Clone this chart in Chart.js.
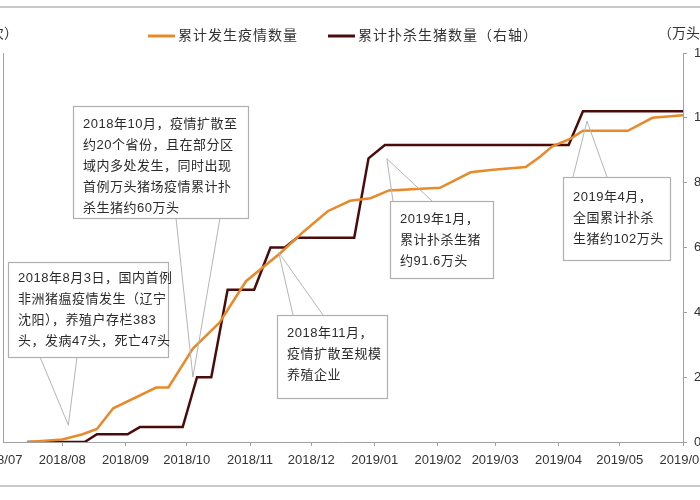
<!DOCTYPE html>
<html>
<head>
<meta charset="utf-8">
<script src="https://cdn.jsdelivr.net/npm/chart.js@4/dist/chart.umd.min.js"></script>
<style>
  html, body { margin: 0; padding: 0; background: #fff; }
  canvas { display: block; }
</style>
</head>
<body>
<canvas id="chart" width="700" height="500"></canvas>
<script>
// x values are days counted from 2018-07-01
const monthDays = [0, 31, 62, 92, 123, 153, 184, 215, 243, 274, 304, 335];
const monthLabels = ['2018/07', '2018/08', '2018/09', '2018/10', '2018/11', '2018/12',
                     '2019/01', '2019/02', '2019/03', '2019/04', '2019/05', '2019/06'];

// 累计发生疫情数量 (left axis, 次)
const outbreakDays = [14, 31, 41, 48, 56, 77, 83, 95, 108, 121, 138, 149, 161, 172,
                      182, 191, 216, 231, 242, 258, 265, 271, 280, 286, 308, 320, 335];
const outbreakCount = [0, 1, 3, 5, 13, 21, 21, 36, 46, 62, 73, 81, 89, 93,
                       94, 97, 98, 104, 105, 106, 110, 114, 117, 120, 120, 125, 126];

// 累计扑杀生猪数量 (right axis, 万头)
const cullDays = [14, 42, 48, 63, 69, 90, 97, 104, 112, 125, 133, 140, 146, 174,
                  181, 189, 279, 286, 335];
const cullValues = [0, 0, 2.4, 2.4, 4.6, 4.6, 20, 20, 47, 47, 60, 60, 63, 63,
                    87.5, 91.6, 91.6, 102, 102];

const rightTicks = [0, 20, 40, 60, 80, 100, 120];

const seriesNames = ['累计发生疫情数量', '累计扑杀生猪数量（右轴）'];
const seriesColors = ['#e8892a', '#4a0b0b'];

// callout boxes: box = [left, top, width, height] in px, tip = data point it refers to
const notes = [
  { box: [73, 106, 175, 112], first: 124, base: [[176, 218], [220, 218]],
    tip: { x: 95, y: 20, axis: 'y1' },
    lines: ['2018年10月，疫情扩散至', '约20个省份，且在部分区', '域内多处发生，同时出现',
            '首例万头猪场疫情累计扑', '杀生猪约60万头'] },
  { box: [8, 262, 160, 95], first: 278, base: [[40, 357], [77, 357]],
    tip: { x: 34, y: 6.5, axis: 'y' },
    lines: ['2018年8月3日，国内首例', '非洲猪瘟疫情发生（辽宁', '沈阳），养殖户存栏383',
            '头，发病47头，死亡47头'] },
  { box: [277, 315, 110, 83], first: 333, base: [[293, 315], [323, 315]],
    tip: { x: 137, y: 58.5, axis: 'y1' },
    lines: ['2018年11月，', '疫情扩散至规模', '养殖企业'] },
  { box: [390, 201, 103, 77], first: 219, base: [[393, 201], [432, 201]],
    tip: { x: 190, y: 87.4, axis: 'y1' },
    lines: ['2019年1月，', '累计扑杀生猪', '约91.6万头'] },
  { box: [563, 177, 107, 83], first: 197, base: [[573, 177], [607, 177]],
    tip: { x: 288, y: 99, axis: 'y1' },
    lines: ['2019年4月，', '全国累计扑杀', '生猪约102万头'] }
];

const textFont = '"Liberation Sans", "Noto Sans CJK SC", sans-serif';

const decor = {
  id: 'decor',
  beforeDraw(chart) {
    const ctx = chart.ctx;
    ctx.save();
    ctx.fillStyle = '#fff';
    ctx.fillRect(0, 0, chart.width, chart.height);
    // frame lines of the figure
    ctx.strokeStyle = '#b8b8b8';
    ctx.lineWidth = 1.5;
    ctx.beginPath();
    ctx.moveTo(0, 7); ctx.lineTo(chart.width, 7);
    ctx.moveTo(0, 486); ctx.lineTo(chart.width, 486);
    ctx.stroke();

    // axis units
    ctx.fillStyle = '#333';
    ctx.font = '14px ' + textFont;
    ctx.textBaseline = 'middle';
    ctx.textAlign = 'right';
    ctx.fillText('（次）', 18, 34);
    ctx.textAlign = 'left';
    ctx.fillText('（万头）', 658, 34);

    // legend
    if ('letterSpacing' in ctx) ctx.letterSpacing = '1px';
    const items = [[148, 178], [328, 358]];
    chart.data.datasets.forEach(function(ds, i) {
      ctx.strokeStyle = ds.borderColor;
      ctx.lineWidth = 3;
      ctx.beginPath();
      ctx.moveTo(items[i][0], 36);
      ctx.lineTo(items[i][0] + 27, 36);
      ctx.stroke();
      ctx.fillStyle = '#333';
      ctx.fillText(ds.label, items[i][1], 36);
    });
    ctx.restore();
  },
  afterDatasetsDraw(chart) {
    const ctx = chart.ctx;
    const sx = chart.scales.x;
    ctx.save();
    ctx.font = '13px ' + textFont;
    if ('letterSpacing' in ctx) ctx.letterSpacing = '0.5px';
    ctx.textBaseline = 'middle';
    ctx.textAlign = 'left';
    notes.forEach(function(n) {
      const tx = sx.getPixelForValue(n.tip.x);
      const ty = chart.scales[n.tip.axis].getPixelForValue(n.tip.y);
      // pointer
      ctx.strokeStyle = '#b5b5b5';
      ctx.lineWidth = 1;
      ctx.beginPath();
      ctx.moveTo(n.base[0][0], n.base[0][1]);
      ctx.lineTo(tx, ty);
      ctx.lineTo(n.base[1][0], n.base[1][1]);
      ctx.stroke();
      // box
      const b = n.box;
      ctx.fillStyle = '#fff';
      ctx.fillRect(b[0], b[1], b[2], b[3]);
      ctx.strokeStyle = '#b0b0b0';
      ctx.lineWidth = 1.2;
      ctx.strokeRect(b[0] + 0.5, b[1] + 0.5, b[2], b[3]);
      ctx.fillStyle = '#2b2b2b';
      n.lines.forEach(function(t, i) {
        ctx.fillText(t, b[0] + 10, n.first + i * 21);
      });
    });
    ctx.restore();
  }
};

new Chart(document.getElementById('chart'), {
  type: 'line',
  data: {
    datasets: [
      {
        label: seriesNames[0],
        data: outbreakDays.map(function(d, i) { return { x: d, y: outbreakCount[i] }; }),
        borderColor: seriesColors[0],
        borderWidth: 2.5,
        pointRadius: 0,
        tension: 0,
        yAxisID: 'y'
      },
      {
        label: seriesNames[1],
        data: cullDays.map(function(d, i) { return { x: d, y: cullValues[i] }; }),
        borderColor: seriesColors[1],
        borderWidth: 2.5,
        pointRadius: 0,
        tension: 0,
        yAxisID: 'y1'
      }
    ]
  },
  options: {
    responsive: false,
    animation: false,
    layout: { padding: { top: 53, left: 0, right: 0, bottom: 0 } },
    plugins: {
      legend: { display: false },
      tooltip: { enabled: false }
    },
    scales: {
      x: {
        type: 'linear',
        min: 2,
        max: 335,
        afterBuildTicks: function(scale) {
          scale.ticks = monthDays.map(function(v) { return { value: v }; });
        },
        afterFit: function(scale) {
          scale.height = 58;
          scale.paddingLeft = 0;
          scale.paddingRight = 0;
        },
        ticks: {
          autoSkip: false,
          maxRotation: 0,
          padding: 7,
          color: '#333',
          font: { family: textFont, size: 13 },
          callback: function(value) {
            const i = monthDays.indexOf(value);
            return i >= 0 ? monthLabels[i] : '';
          }
        },
        grid: { drawOnChartArea: false, tickLength: 4, color: '#a0a0a0' },
        border: { color: '#a0a0a0', width: 1 }
      },
      y: {
        position: 'left',
        min: 0,
        max: 150,
        afterFit: function(scale) {
          scale.width = 3;
          scale.paddingTop = 0;
          scale.paddingBottom = 0;
        },
        ticks: { display: false },
        grid: { display: false },
        border: { color: '#a0a0a0', width: 1 }
      },
      y1: {
        position: 'right',
        min: 0,
        max: 120,
        afterBuildTicks: function(scale) {
          scale.ticks = rightTicks.map(function(v) { return { value: v }; });
        },
        afterFit: function(scale) {
          scale.width = 17;
          scale.paddingTop = 0;
          scale.paddingBottom = 0;
        },
        ticks: {
          padding: 7,
          color: '#333',
          font: { family: textFont, size: 13 }
        },
        grid: { drawOnChartArea: false, tickLength: 4, color: '#a0a0a0' },
        border: { color: '#a0a0a0', width: 1 }
      }
    }
  },
  plugins: [decor]
});
</script>
</body>
</html>
